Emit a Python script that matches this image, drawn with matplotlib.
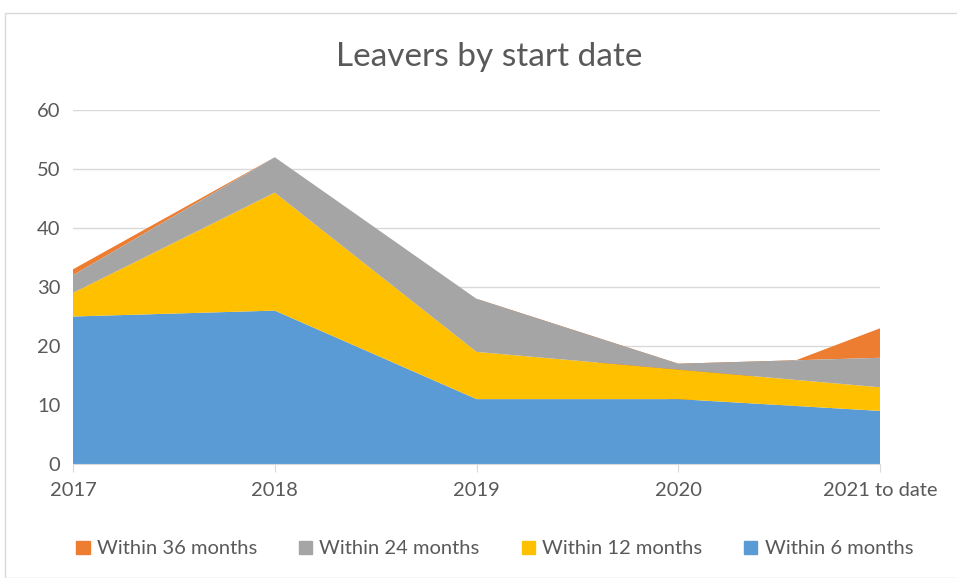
import matplotlib.pyplot as plt
from matplotlib.patches import Rectangle, Patch

# data
years = ['2017', '2018', '2019', '2020', '2021 to date']
within_6 = [25, 26, 11, 11, 9]
within_12 = [4, 20, 8, 5, 4]
within_24 = [3, 6, 9, 1, 5]
within_36 = [1, 0, 0, -7, 5]

c_blue = '#5B9BD5'
c_yellow = '#FFC000'
c_gray = '#A5A5A5'
c_orange = '#ED7D31'
txt = '#595959'

plt.rcParams['font.family'] = ['Lato', 'DejaVu Sans']

fig = plt.figure(figsize=(9.57, 5.78), dpi=100)
ax = fig.add_axes([73/957, 1-464/578, (880-73)/957, (464-110)/578])

x = list(range(len(years)))
polys = ax.stackplot(x, within_6, within_12, within_24, within_36,
                     colors=[c_blue, c_yellow, c_gray, c_orange], linewidth=0)
# orange sits behind the others so its dip in 2020 stays hidden
polys[3].set_zorder(1)
for p in polys[:3]:
    p.set_zorder(2)

ax.set_xlim(0, 4)
ax.set_ylim(0, 60)
ax.set_yticks(range(0, 61, 10))
ax.set_xticks(x)
ax.set_xticklabels(years)
ax.grid(axis='y', color='#D9D9D9', linewidth=1, zorder=0)
ax.set_axisbelow(True)
for s in ['top', 'right', 'left']:
    ax.spines[s].set_visible(False)
ax.spines['bottom'].set_color('#D9D9D9')
ax.spines['bottom'].set_zorder(3)
ax.tick_params(axis='y', length=0, pad=9, labelsize=14.5, labelcolor=txt)
ax.tick_params(axis='x', length=6, color='#D9D9D9', pad=7, labelsize=14.5, labelcolor=txt)

fig.text(0.511, 1-57/578, 'Leavers by start date', ha='center', va='center',
         fontsize=24, color=txt)

handles = [Patch(color=c_orange), Patch(color=c_gray), Patch(color=c_yellow), Patch(color=c_blue)]
labels = ['Within 36 months', 'Within 24 months', 'Within 12 months', 'Within 6 months']
fig.legend(handles, labels, loc='center', bbox_to_anchor=(0.517, 1-549/578), ncol=4,
           frameon=False, fontsize=14.5, labelcolor=txt, handlelength=0.65,
           handleheight=0.65, handletextpad=0.35, columnspacing=2.1)

fig.patches.append(Rectangle((5/957, 0), 1, 1-13/578, transform=fig.transFigure,
                             fill=False, edgecolor='#D9D9D9', linewidth=1))

fig.savefig('out.png', dpi=100)
